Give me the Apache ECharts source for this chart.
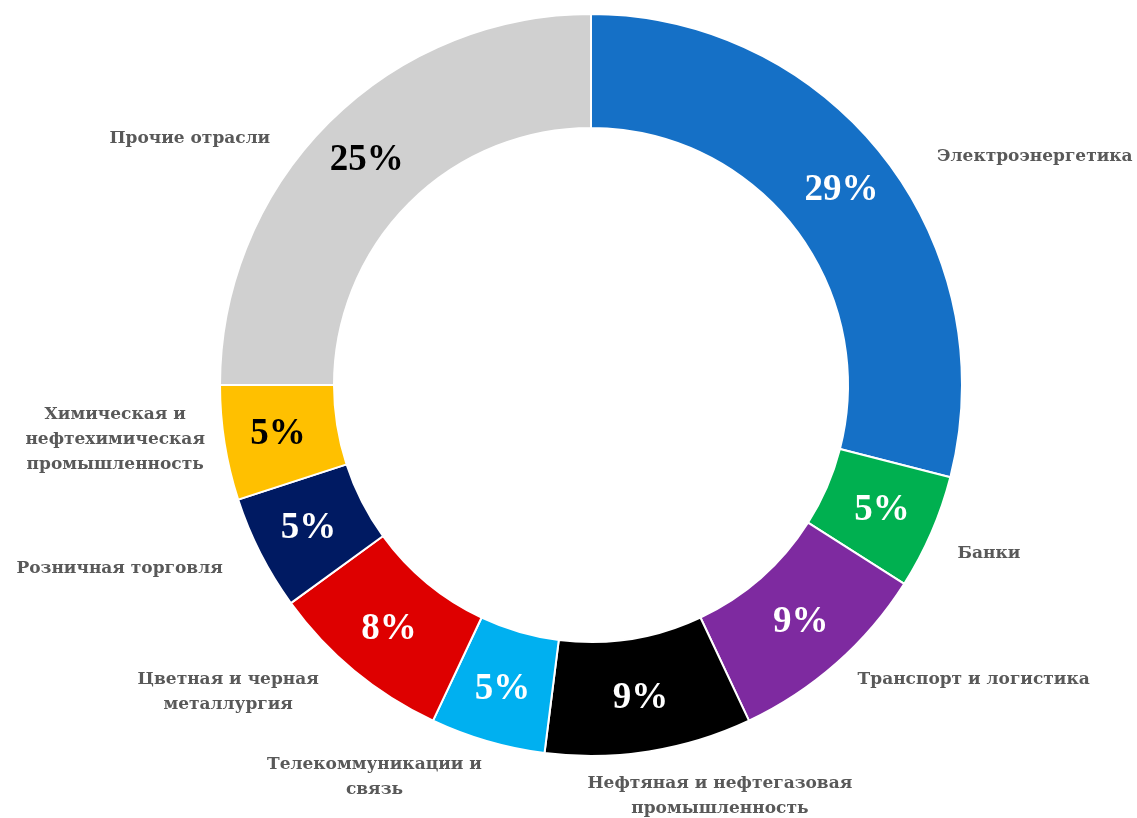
<!DOCTYPE html>
<html>
<head>
<meta charset="utf-8">
<script src="https://cdn.jsdelivr.net/npm/echarts@6/dist/echarts.min.js"></script>
<style>
  html, body { margin: 0; padding: 0; background: #ffffff; }
  #chart { width: 1137px; height: 818px; }
</style>
</head>
<body>
<div id="chart"></div>
<script>
// Sector shares, clockwise from the top
const categories = [
  'Электроэнергетика',
  'Банки',
  'Транспорт и логистика',
  'Нефтяная и нефтегазовая\nпромышленность',
  'Телекоммуникации и\nсвязь',
  'Цветная и черная\nметаллургия',
  'Розничная торговля',
  'Химическая и\nнефтехимическая\nпромышленность',
  'Прочие отрасли'
];
const shares = [29, 5, 9, 9, 5, 8, 5, 5, 25];
const colors = ['#1570C6', '#00B050', '#7E2AA0', '#000000', '#00B0F0', '#DE0000', '#001A62', '#FFC000', '#D0D0D0'];
const pctColors = ['#ffffff', '#ffffff', '#ffffff', '#ffffff', '#ffffff', '#ffffff', '#ffffff', '#000000', '#000000'];

// Where each category caption sits: angle (deg, clockwise from top) and distance from the centre
const captionAngle = [62.8, 112.9, 127.6, 162.6, 208.9, 229.8, 248.7, 263.4, 301.6];
const captionDist = [499, 432, 483, 431, 448, 475, 506, 479, 471];

const CX = 591, CY = 385, R_IN = 257, R_OUT = 371;

const chart = echarts.init(document.getElementById('chart'));

const data = categories.map((name, i) => ({
  name: name,
  value: shares[i],
  itemStyle: { color: colors[i] },
  label: { color: pctColors[i] }
}));

chart.setOption({
  animation: false,
  backgroundColor: '#ffffff',
  series: [
    {
      type: 'pie',
      center: [CX, CY],
      radius: [R_IN, R_OUT],
      startAngle: 90,
      clockwise: true,
      avoidLabelOverlap: false,
      itemStyle: { borderColor: '#ffffff', borderWidth: 2 },
      label: {
        show: true,
        position: 'inside',
        formatter: p => p.value + '%',
        fontFamily: 'Liberation Serif',
        fontSize: 37,
        fontWeight: 'bold'
      },
      labelLine: { show: false },
      data: data
    },
    {
      // captions around the ring
      type: 'pie',
      center: [CX, CY],
      radius: [R_IN, R_OUT],
      startAngle: 90,
      clockwise: true,
      silent: true,
      avoidLabelOverlap: false,
      itemStyle: { color: 'rgba(0,0,0,0)' },
      label: {
        show: true,
        position: 'outside',
        formatter: p => p.name,
        fontFamily: 'DejaVu Serif',
        fontWeight: 'bold',
        fontSize: 17,
        lineHeight: 25,
        color: '#595959',
        align: 'center'
      },
      labelLine: { show: false },
      labelLayout: p => {
        const i = p.dataIndex;
        const a = captionAngle[i] * Math.PI / 180;
        return {
          x: CX + captionDist[i] * Math.sin(a),
          y: CY - captionDist[i] * Math.cos(a),
          align: 'center',
          verticalAlign: 'middle'
        };
      },
      data: categories.map((name, i) => ({ name: name, value: shares[i] }))
    }
  ]
});
</script>
</body>
</html>
